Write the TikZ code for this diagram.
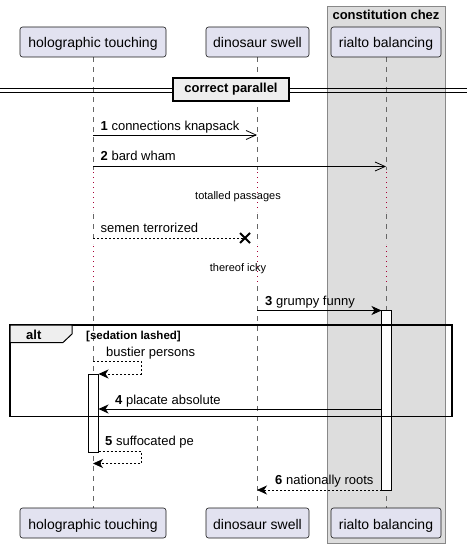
\documentclass[tikz,border=0pt]{standalone}
\usepackage{fontspec}
\setmainfont{Liberation Sans}
\usetikzlibrary{arrows.meta,calc}
\definecolor{partfill}{HTML}{E2E2F0}
\definecolor{partline}{HTML}{181818}
\definecolor{groupfill}{HTML}{DDDDDD}
\definecolor{groupline}{HTML}{888888}
\definecolor{tabfill}{HTML}{EEEEEE}
\definecolor{delaycol}{HTML}{A80036}
\tikzset{
  x=1pt, y=-1pt,
  participant/.style={draw=partline, fill=partfill, rounded corners=2.5pt, line width=0.6pt,
    minimum height=30pt, inner sep=0pt, text height=12.5pt, text depth=0.5pt,
    font=\fontsize{14}{16}\selectfont},
  lifeline/.style={draw=black!60, line width=0.6pt, dash pattern=on 5pt off 5pt},
  delayline/.style={draw=delaycol, line width=0.8pt, dash pattern=on 1pt off 4pt},
  msg/.style={draw=black, line width=0.8pt},
  reply/.style={draw=black, line width=0.8pt, dash pattern=on 2pt off 2pt},
  openhead/.style={-{Straight Barb[length=10pt,width=9pt,line width=0.8pt]}},
  fillhead/.style={-{Stealth[length=10pt,width=9pt,inset=3pt]}},
  msglabel/.style={anchor=base west, inner sep=0pt, font=\fontsize{13}{15}\selectfont},
  delaylabel/.style={anchor=base, inner sep=0pt, font=\fontsize{11}{13}\selectfont},
  activation/.style={draw=black, fill=white, line width=0.8pt},
}
\begin{document}
\begin{tikzpicture}
\useasboundingbox (0,0) rectangle (467,548);

% participant box
\fill[groupfill] (327,6) rectangle (445,543);
\draw[groupline, line width=0.8pt] (327,6) rectangle (445,543);
\node[anchor=base, inner sep=0pt, font=\bfseries\fontsize{13}{15}\selectfont] (grp) at (386,20) {constitution chez};

% lifelines
\foreach \lx in {93,257,386}{
  \draw[lifeline] (\lx,57) -- (\lx,170);
  \draw[delayline] (\lx,172) -- (\lx,212);
  \draw[lifeline] (\lx,214) -- (\lx,244);
  \draw[delayline] (\lx,246) -- (\lx,284);
  \draw[lifeline] (\lx,286) -- (\lx,508);
}

% participants, top and bottom
\node[participant, minimum width=146pt] (ht) at (93,42) {holographic touching};
\node[participant, minimum width=103pt] (ds) at (257.5,42) {dinosaur swell};
\node[participant, minimum width=110pt] (rb) at (386,42) {rialto balancing};
\node[participant, minimum width=146pt] (htb) at (93,523) {holographic touching};
\node[participant, minimum width=103pt] (dsb) at (257.5,523) {dinosaur swell};
\node[participant, minimum width=110pt] (rbb) at (386,523) {rialto balancing};

% divider
\draw[line width=0.8pt] (0,88) -- (467,88);
\draw[line width=0.8pt] (0,92) -- (467,92);
\node[draw=black, fill=tabfill, line width=1.6pt, minimum width=116pt, minimum height=23pt, inner sep=0pt,
  font=\bfseries\fontsize{13}{15}\selectfont] (div) at (231,89.5) {correct parallel};

% named anchor points on the lifelines
\coordinate (h1) at (93,135);   \coordinate (d1) at (257,135);
\coordinate (h2) at (93,166.5); \coordinate (r2) at (386,166.5);
\coordinate (h3) at (93,238);   \coordinate (x3) at (245,238);
\coordinate (d4) at (257,310.5); \coordinate (r4) at (381.5,310.5);
\coordinate (ha) at (93,361);    \coordinate (haa) at (141,361);
\coordinate (hab) at (141,374);  \coordinate (hac) at (98.5,374);
\coordinate (r5) at (381.5,409); \coordinate (h5) at (98.5,409);
\coordinate (h6) at (98.5,451);  \coordinate (h6a) at (141,451);
\coordinate (h6b) at (141,463.5); \coordinate (h6c) at (93,463.5);
\coordinate (r7) at (381.5,490); \coordinate (d7) at (257,490);

% activations
\draw[activation] (381.5,310.5) rectangle (391,490);
\draw[activation] (88.5,374) rectangle (98.5,452);

% alt frame
\draw[line width=1.5pt] (10,325) rectangle (452,416.5);
\draw[fill=tabfill, line width=1pt] (10,325) -- (72,325) -- (72,334) -- (63,342.5) -- (10,342.5) -- cycle;
\node[anchor=base west, inner sep=0pt, font=\bfseries\fontsize{13}{15}\selectfont] (alt) at (26,339) {alt};
\node[anchor=base west, inner sep=0pt, font=\bfseries\fontsize{11.5}{13}\selectfont] (cond) at (86,339) {[sedation lashed]};

% messages
\draw[msg, openhead] (h1) -- (d1);
\node[msglabel] (l1) at (100.5,130.5) {\textbf{1} connections knapsack};

\draw[msg, openhead] (h2) -- (r2);
\node[msglabel] (l2) at (100.5,160.5) {\textbf{2} bard wham};

\node[delaylabel] (dl1) at (238,199) {totalled passages};

\draw[reply] (h3) -- (x3);
\draw[line width=1.8pt] ($(x3)+(-5,-5)$) -- ($(x3)+(5,5)$) ($(x3)+(-5,5)$) -- ($(x3)+(5,-5)$);
\node[msglabel] (l3) at (100.5,232) {semen terrorized};

\node[delaylabel] (dl2) at (238,271.5) {thereof icky};

\draw[msg, fillhead] (d4) -- (r4);
\node[msglabel] (l4) at (265,305) {\textbf{3} grumpy funny};

\draw[reply, fillhead] (ha) -- (haa) -- (hab) -- (hac);
\node[msglabel] (l5) at (106,356) {bustier persons};

\draw[msg, fillhead] (r5) -- (h5);
\node[msglabel] (l6) at (115,404) {\textbf{4} placate absolute};

\draw[reply, fillhead] (h6) -- (h6a) -- (h6b) -- (h6c);
\node[msglabel] (l7) at (105,445.5) {\textbf{5} suffocated pe};

\draw[reply, fillhead] (r7) -- (d7);
\node[msglabel] (l8) at (275,484.5) {\textbf{6} nationally roots};
\end{tikzpicture}
\end{document}
